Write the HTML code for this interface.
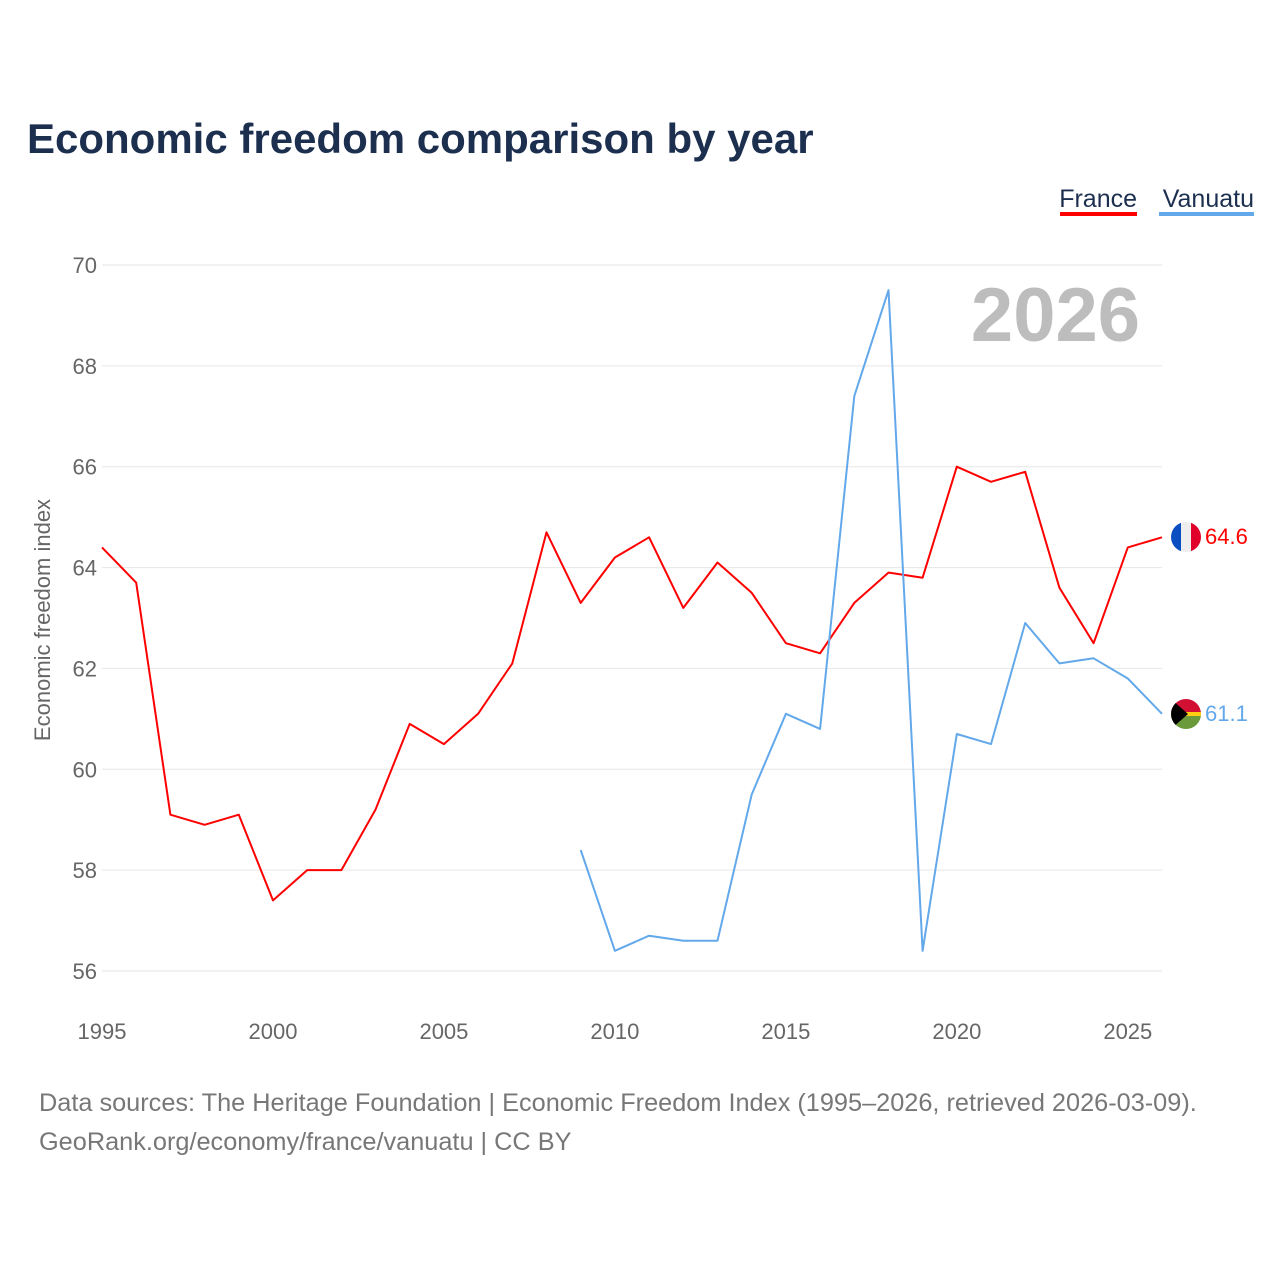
<!DOCTYPE html>
<html><head><meta charset="utf-8"><style>
body{margin:0;background:#fff;font-family:"Liberation Sans",sans-serif;}
svg text{font-family:"Liberation Sans",sans-serif;}
</style></head><body>
<svg id="chart" width="1280" height="1280">
<rect width="1280" height="1280" fill="#fff"/>
<text x="27" y="153" font-size="42" font-weight="bold" fill="#1c2f4f">Economic freedom comparison by year</text>
<g>
<text x="1137" y="207" font-size="25" fill="#1c2f4f" text-anchor="end">France</text>
<rect x="1060" y="212" width="77" height="4" fill="#f00"/>
<text x="1254" y="207" font-size="25" fill="#1c2f4f" text-anchor="end">Vanuatu</text>
<rect x="1159" y="212" width="95" height="4" fill="#62a8ea"/>
</g>
<g id="grid"></g>
<text x="1140" y="341" font-size="76" font-weight="bold" fill="#bdbdbd" text-anchor="end">2026</text>
<text transform="translate(50,620) rotate(-90)" font-size="22" fill="#666" text-anchor="middle">Economic freedom index</text>
<g id="series"></g>
<g>
<clipPath id="cf"><circle cx="1186" cy="537" r="15"/></clipPath>
<g clip-path="url(#cf)"><rect x="1171" y="522" width="10" height="30" fill="#0a4fc2"/><rect x="1181" y="522" width="10" height="30" fill="#eee"/><rect x="1191" y="522" width="10" height="30" fill="#e0002a"/></g>
<text x="1205" y="544" font-size="22" fill="#f00">64.6</text></g>
<g>
<clipPath id="cv"><circle cx="1186" cy="714" r="15"/></clipPath>
<g clip-path="url(#cv)"><rect x="1171" y="699" width="30" height="15" fill="#d21034"/><rect x="1171" y="714" width="30" height="15" fill="#6a9a3a"/><rect x="1171" y="712" width="30" height="4" fill="#fdce12"/><polygon points="1171,699 1188,714 1171,729" fill="#000"/></g>
<text x="1205" y="721" font-size="22" fill="#62a8ea">61.1</text></g>
<text x="39" y="1111" font-size="25.3" fill="#777">Data sources: The Heritage Foundation | Economic Freedom Index (1995–2026, retrieved 2026-03-09).</text>
<text x="39" y="1150" font-size="25.3" fill="#777">GeoRank.org/economy/france/vanuatu | CC BY</text>
</svg>
<script>
const years=[1995,1996,1997,1998,1999,2000,2001,2002,2003,2004,2005,2006,2007,2008,2009,2010,2011,2012,2013,2014,2015,2016,2017,2018,2019,2020,2021,2022,2023,2024,2025,2026];
const france=[64.4,63.7,59.1,58.9,59.1,57.4,58.0,58.0,59.2,60.9,60.5,61.1,62.1,64.7,63.3,64.2,64.6,63.2,64.1,63.5,62.5,62.3,63.3,63.9,63.8,66.0,65.7,65.9,63.6,62.5,64.4,64.6];
const vanuatu=[null,null,null,null,null,null,null,null,null,null,null,null,null,null,58.4,56.4,56.7,56.6,56.6,59.5,61.1,60.8,67.4,69.5,56.4,60.7,60.5,62.9,62.1,62.2,61.8,61.1];
const yTicks=[56,58,60,62,64,66,68,70];
const xTicks=[1995,2000,2005,2010,2015,2020,2025];
const NS="http://www.w3.org/2000/svg";
const xs=y=>102+(y-1995)*(1060/31);
const ys=v=>265+(70-v)*(706/14);
const grid=document.getElementById('grid');
function mk(t,a,p){const e=document.createElementNS(NS,t);for(const k in a)e.setAttribute(k,a[k]);p.appendChild(e);return e;}
yTicks.forEach(v=>{
const l=mk('line',{x1:102,x2:1162,y1:ys(v),y2:ys(v),stroke:'#e6e6e6','stroke-width':1},grid);


const t=mk('text',{x:97,y:ys(v)+8,'font-size':22,fill:'#666','text-anchor':'end'},grid);
t.textContent=v;


});
xTicks.forEach(v=>{
const t=mk('text',{x:xs(v),y:1039,'font-size':22,fill:'#666','text-anchor':'middle'},grid);
t.textContent=v;


});
const sg=document.getElementById('series');
function line(vals,color,name){
let d='';let pen=false;
vals.forEach((v,i)=>{if(v==null){pen=false;return;}d+=(pen?'L':'M')+xs(years[i]).toFixed(1)+','+ys(v).toFixed(1);pen=true;});
const p=mk('path',{d:d,fill:'none',stroke:color,'stroke-width':2,'stroke-linejoin':'round'},sg);


}
line(france,'#f00','france-line');
line(vanuatu,'#62a8ea','vanuatu-line');
</script>
</body></html>
